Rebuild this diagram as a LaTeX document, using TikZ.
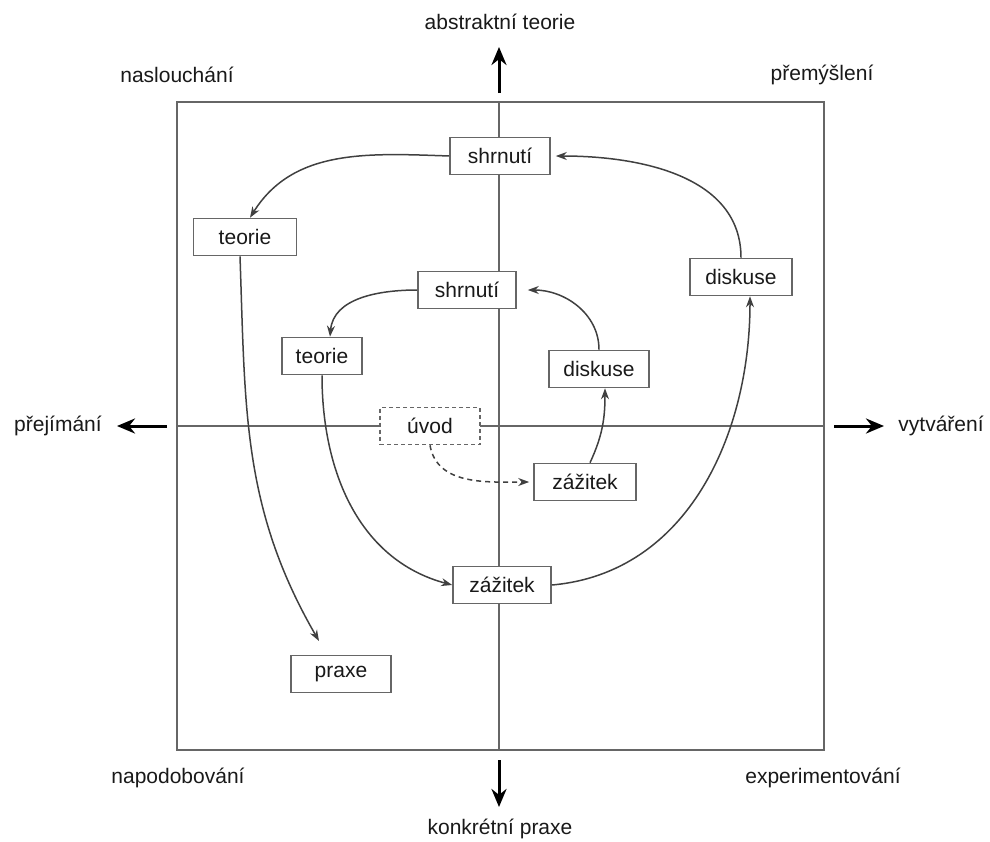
\documentclass[tikz,border=0pt]{standalone}
\usepackage{fontspec}
\setmainfont{Liberation Sans}
\usetikzlibrary{arrows.meta}
\begin{document}
\begin{tikzpicture}[x=1pt,y=1pt,
  every node/.style={font=\fontsize{21}{25}\selectfont, text=black!90},
  box/.style={draw=black!60, line width=1.6pt, fill=white, minimum height=37pt, inner sep=0pt},
  dbox/.style={box, dashed, dash pattern=on 4pt off 3pt},
  flow/.style={draw=black!75, line width=1.5pt, -{Stealth[length=11pt,width=8pt]}},
  axisarrow/.style={line width=3pt, -{Stealth[length=18pt,width=15pt]}},
  frameline/.style={draw=black!60, line width=1.7pt}]
\useasboundingbox (0,0) rectangle (990,-841);

% frame and axes
\coordinate (fnw) at (177,-102);
\coordinate (fse) at (824,-750);
\draw[frameline] (fnw) rectangle (fse);
\coordinate (vtop) at (499,-102);
\coordinate (vbot) at (499,-750);
\coordinate (hl) at (177,-426);
\coordinate (hr) at (824,-426);
\draw[frameline] (vtop) -- (vbot);
\draw[frameline] (hl) -- (hr);

% axis arrows
\coordinate (a1s) at (499,-93);  \coordinate (a1e) at (499,-47);
\coordinate (a2s) at (499,-760); \coordinate (a2e) at (499,-807);
\coordinate (a3s) at (167,-426); \coordinate (a3e) at (117,-426);
\coordinate (a4s) at (834,-426); \coordinate (a4e) at (884,-426);
\draw[axisarrow] (a1s) -- (a1e);
\draw[axisarrow] (a2s) -- (a2e);
\draw[axisarrow] (a3s) -- (a3e);
\draw[axisarrow] (a4s) -- (a4e);

% axis labels
\node (lt) at (500,-22) {abstraktní teorie};
\node (lb) at (500,-829) {konkrétní praxe};
\node (ll) at (58,-426) {přejímání};
\node (lr) at (941,-426) {vytváření};

% quadrant labels
\node (q1) at (177,-75) {naslouchání};
\node (q2) at (822,-75) {přemýšlení};
\node (q3) at (178,-778) {napodobování};
\node (q4) at (823,-778) {experimentování};

% outer cycle
\node[box, minimum width=100pt] (shr1) at (500,-156) {shrnutí};
\node[box, minimum width=103pt] (teo1) at (245,-237) {teorie};
\node[box, minimum width=100pt] (pra)  at (341,-674) {praxe};
\node[box, minimum width=98pt]  (zaz1) at (502,-585) {zážitek};
\node[box, minimum width=102pt] (dis1) at (741,-277) {diskuse};

% inner cycle
\node[box, minimum width=98pt]  (shr2) at (467,-290) {shrnutí};
\node[box, minimum width=80pt]  (teo2) at (322,-356) {teorie};
\node[box, minimum width=102pt] (zaz2) at (585,-482) {zážitek};
\node[box, minimum width=100pt] (dis2) at (599,-369) {diskuse};
\node[dbox, minimum width=100pt] (uvod) at (430,-426) {úvod};

% connectors of the outer cycle
\coordinate (praIn) at (319,-641);
\draw[flow] (shr1.west) to[out=178,in=58] ([xshift=5pt]teo1.north);
\draw[flow] ([xshift=-5pt]teo1.south) to[out=-88,in=120] (praIn);
\draw[flow] (zaz1.east) to[out=5,in=-90] ([xshift=9pt]dis1.south);
\draw[flow] (dis1.north) to[out=90,in=0] ([xshift=5pt]shr1.east);

% connectors of the inner cycle
\draw[flow] (shr2.west) to[out=180,in=85] ([xshift=8pt]teo2.north);
\draw[flow] (teo2.south) to[out=-90,in=165] (zaz1.west);
\draw[flow] ([xshift=5pt]zaz2.north) to[out=65,in=-90] ([xshift=6pt]dis2.south);
\draw[flow] (dis2.north) to[out=90,in=0] ([xshift=11pt]shr2.east);
\draw[flow, dashed, dash pattern=on 5pt off 4pt] (uvod.south) to[out=-80,in=180] ([xshift=-4pt]zaz2.west);
\end{tikzpicture}
\end{document}
